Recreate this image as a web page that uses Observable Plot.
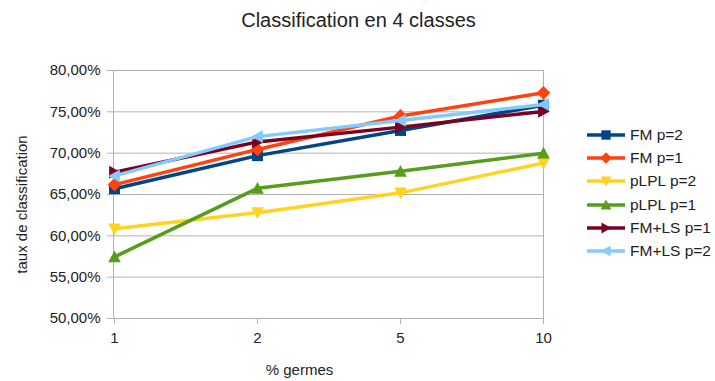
<!DOCTYPE html>
<html>
<head>
<meta charset="utf-8">
<script src="https://cdn.jsdelivr.net/npm/d3@7"></script>
<script src="https://cdn.jsdelivr.net/npm/@observablehq/plot@0.6"></script>
<style>
  html, body { margin: 0; padding: 0; background: #fff; }
  #chart { position: relative; width: 715px; height: 381px; font-family: "Liberation Sans", Arial, sans-serif; }
  #legend { position: absolute; left: 587px; top: 123px; }
  .item { display: flex; align-items: center; height: 23.3px; font-size: 15.5px; color: #222; }
  .item svg { margin-right: 5px; }
</style>
</head>
<body>
<div id="chart"><div id="legend"></div></div>
<script>
// ---- data ----
const title = "Classification en 4 classes";
const xTitle = "% germes";
const yTitle = "taux de classification";
const xLabels = ["1", "2", "5", "10"];
const yTicks = [50, 55, 60, 65, 70, 75, 80];
const seriesNames = ["FM p=2", "FM p=1", "pLPL p=2", "pLPL p=1", "FM+LS p=1", "FM+LS p=2"];
const fmP2   = [65.7, 69.7, 72.75, 75.8];
const fmP1   = [66.2, 70.45, 74.5, 77.3];
const plplP2 = [60.85, 62.8, 65.2, 68.8];
const plplP1 = [57.45, 65.75, 67.8, 70.0];
const fmlsP1 = [67.7, 71.35, 73.15, 75.05];
const fmlsP2 = [67.25, 72.0, 73.95, 75.9];
const seriesValues = [fmP2, fmP1, plplP2, plplP1, fmlsP1, fmlsP2];

// ---- styles ----
const colors = ["#004586", "#ff420e", "#ffd320", "#579d1c", "#7e0021", "#83caff"];
const k = (size) => Math.sqrt(size / Math.PI);
const symSquare = { draw(c, size) { const s = k(size); c.rect(-s, -s, 2 * s, 2 * s); } };
const symDiamond = { draw(c, size) { const s = k(size) * 1.25; c.moveTo(0, -s); c.lineTo(s, 0); c.lineTo(0, s); c.lineTo(-s, 0); c.closePath(); } };
const symDown = { draw(c, size) { const s = k(size) * 1.15; c.moveTo(0, s); c.lineTo(s, -s * 0.85); c.lineTo(-s, -s * 0.85); c.closePath(); } };
const symUp = { draw(c, size) { const s = k(size) * 1.15; c.moveTo(0, -s); c.lineTo(s, s * 0.85); c.lineTo(-s, s * 0.85); c.closePath(); } };
const symRight = { draw(c, size) { const s = k(size) * 1.15; c.moveTo(s, 0); c.lineTo(-s * 0.85, -s); c.lineTo(-s * 0.85, s); c.closePath(); } };
const symLeft = { draw(c, size) { const s = k(size) * 1.15; c.moveTo(-s, 0); c.lineTo(s * 0.85, -s); c.lineTo(s * 0.85, s); c.closePath(); } };
const symbols = [symSquare, symDiamond, symDown, symUp, symRight, symLeft];

const rows = seriesNames.flatMap((name, i) => xLabels.map((x, j) => ({ series: name, x, y: seriesValues[i][j] })));
const fmt = (d) => d.toFixed(2).replace(".", ",") + "%";
const grid = "#b3b3b3";

const marks = [
  Plot.gridY(yTicks, { stroke: grid, strokeOpacity: 1 }),
  Plot.frame({ stroke: grid }),
  Plot.axisY(yTicks, { tickFormat: fmt, tickSize: 6, tickPadding: 7, stroke: grid, fill: "#222", label: null, fontSize: 15 }),
  Plot.axisX({ tickSize: 6, tickPadding: 8, stroke: grid, fill: "#222", label: null, fontSize: 15 }),
  Plot.text([title], { frameAnchor: "top", dy: -58, dx: 30, fontSize: 20, fill: "#222" }),
  Plot.text([xTitle], { frameAnchor: "bottom", dy: 56, dx: -29, fontSize: 15, fill: "#222" }),
  Plot.text([yTitle], { frameAnchor: "left", textAnchor: "middle", dx: -91, dy: 10, rotate: -90, fontSize: 15, fill: "#222" })
];
seriesNames.forEach((name, i) => {
  const data = rows.filter((d) => d.series === name);
  marks.push(Plot.line(data, { x: "x", y: "y", stroke: colors[i], strokeWidth: 3.5 }));
  marks.push(Plot.dot(data, { x: "x", y: "y", fill: colors[i], stroke: "none", symbol: symbols[i], r: 5.5 }));
});

const chart = Plot.plot({
  width: 715,
  height: 381,
  marginLeft: 113,
  marginRight: 172,
  marginTop: 70,
  marginBottom: 63,
  style: { fontFamily: "'Liberation Sans', Arial, sans-serif", fontSize: "15px", color: "#222", background: "#fff" },
  x: { type: "point", domain: xLabels, padding: 0 },
  y: { domain: [50, 80] },
  marks
});
document.getElementById("chart").prepend(chart);

// legend
const legend = document.getElementById("legend");
seriesNames.forEach((name, i) => {
  const item = document.createElement("div");
  item.className = "item";
  const path = d3.symbol().type(symbols[i]).size(Math.PI * 5.5 * 5.5)();
  item.innerHTML = `<svg width="38" height="16" viewBox="0 0 38 16"><line x1="0" x2="38" y1="8" y2="8" stroke="${colors[i]}" stroke-width="3.5"/><path transform="translate(19,8) scale(0.85)" d="${path}" fill="${colors[i]}"/></svg><span>${name}</span>`;
  legend.appendChild(item);
});
</script>
</body>
</html>
